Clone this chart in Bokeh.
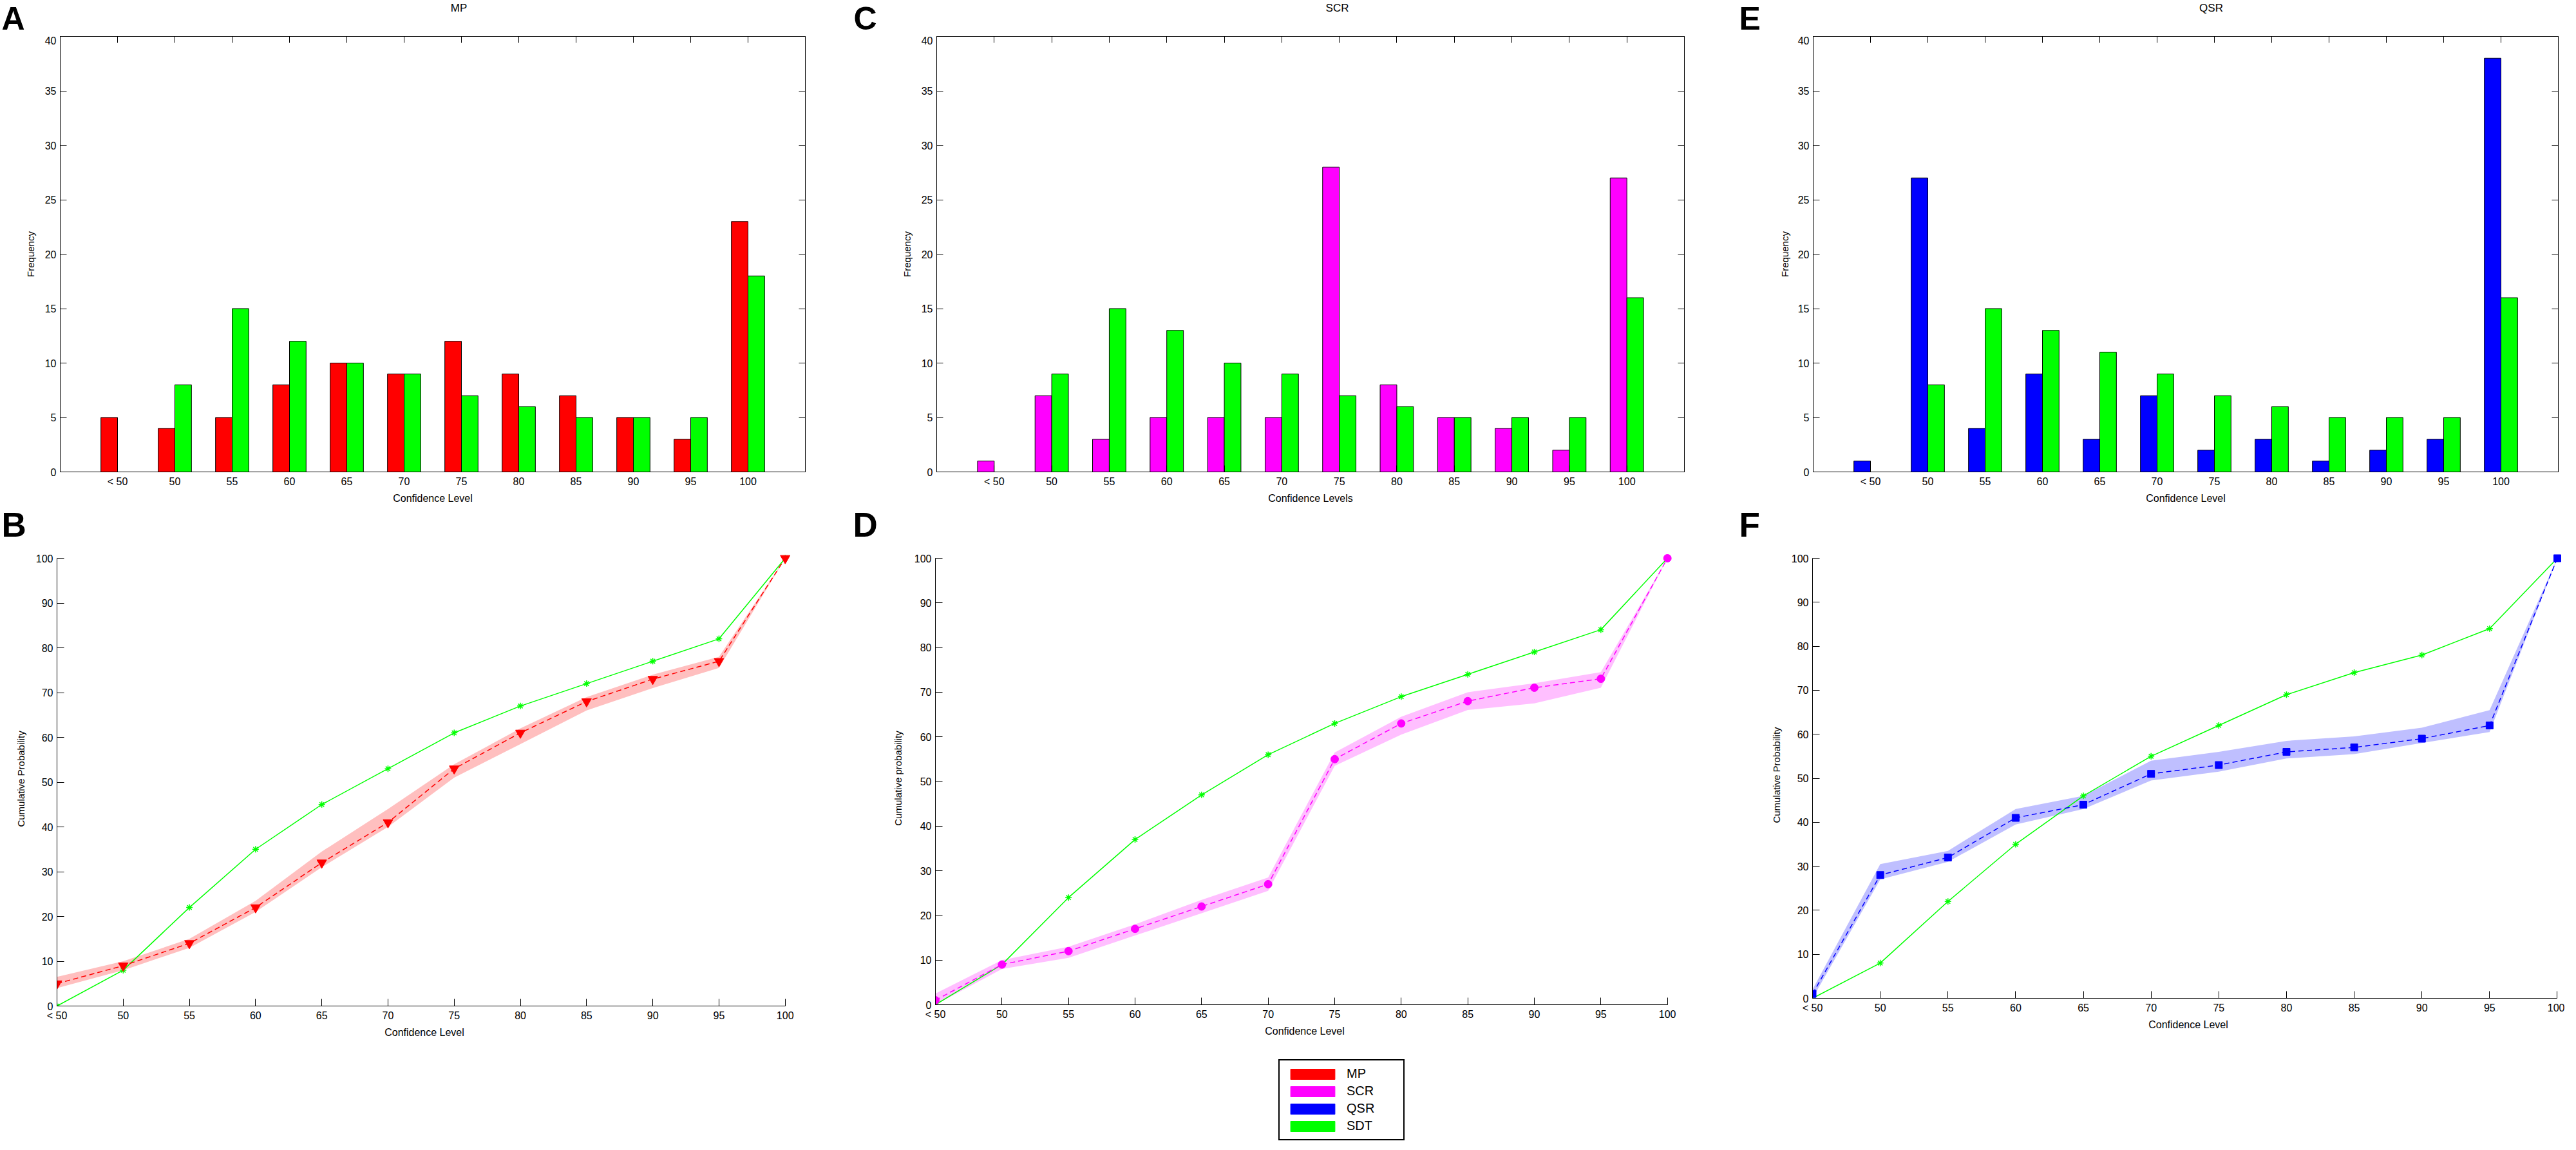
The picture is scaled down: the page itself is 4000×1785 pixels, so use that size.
import numpy as np
from bokeh.plotting import figure
from bokeh.models import (Range1d, FixedTicker, LinearAxis, Legend, LegendItem,
                          CustomJSTickFormatter)
from bokeh.layouts import row, column
from bokeh.embed import file_html
from bokeh.resources import INLINE
from bokeh.core.properties import value

# ---------------- data ----------------
categories = ["< 50", "50", "55", "60", "65", "70", "75", "80", "85", "90", "95", "100"]
freq_ticks = [0, 5, 10, 15, 20, 25, 30, 35, 40]
cum_ticks = [0, 10, 20, 30, 40, 50, 60, 70, 80, 90, 100]

mp_freq = [5, 4, 5, 8, 10, 9, 12, 9, 7, 5, 3, 23]
mp_sdt_freq = [0, 8, 15, 12, 10, 9, 7, 6, 5, 5, 5, 18]
scr_freq = [1, 7, 3, 5, 5, 5, 28, 8, 5, 4, 2, 27]
scr_sdt_freq = [0, 9, 15, 13, 10, 9, 7, 6, 5, 5, 5, 16]
qsr_freq = [1, 27, 4, 9, 3, 7, 2, 3, 1, 2, 3, 38]
qsr_sdt_freq = [0, 8, 15, 13, 11, 9, 7, 6, 5, 5, 5, 16]

mp_cum = [5, 9, 14, 22, 32, 41, 53, 61, 68, 73, 77, 100]
mp_cum_lo = [4, 8, 13, 21, 31, 40, 51, 58.5, 66, 71, 75.5, 100]
mp_cum_hi = [6.5, 10, 15, 23.5, 34.5, 44, 54, 62, 69, 74, 78, 100]
mp_sdt_cum = [0, 8, 22, 35, 45, 53, 61, 67, 72, 77, 82, 100]

scr_cum = [1, 9, 12, 17, 22, 27, 55, 63, 68, 71, 73, 100]
scr_cum_lo = [0, 8, 10.5, 15.5, 20.5, 25.5, 53.5, 60.5, 66, 67.5, 71, 100]
scr_cum_hi = [2.5, 10, 13, 18, 23.5, 28.5, 56.5, 64.5, 70, 72, 74.5, 100]
scr_sdt_cum = [0, 9, 24, 37, 47, 56, 63, 69, 74, 79, 84, 100]

qsr_cum = [1, 28, 32, 41, 44, 51, 53, 56, 57, 59, 62, 100]
qsr_cum_lo = [0, 27, 31, 39.5, 43, 49.5, 51.5, 54.5, 55.5, 58, 60.5, 100]
qsr_cum_hi = [2, 30.5, 33.5, 43, 46, 54, 56, 58.5, 59.5, 61.5, 65.5, 100]
qsr_sdt_cum = [0, 8, 22, 35, 46, 55, 62, 69, 74, 78, 84, 100]

panel_titles = ["MP", "SCR", "QSR"]
top_letters = ["A", "C", "E"]
bottom_letters = ["B", "D", "F"]
legend_names = ["MP", "SCR", "QSR", "SDT"]
RED, MAG, BLUE, GREEN = "#FF0000", "#FF00FF", "#0000FF", "#00FF00"
legend_colors = [RED, MAG, BLUE, GREEN]

FONT = "Liberation Sans"
PAGE_L, PAGE_R = 8, 3990          # reference-pixel extent of the page content
EMPTY = CustomJSTickFormatter(code="return ''")


def style_axis(ax, tick_in=10):
    ax.major_tick_in = tick_in
    ax.major_tick_out = 0
    ax.minor_tick_line_color = None
    ax.axis_line_color = "black"
    ax.major_tick_line_color = "black"
    ax.major_label_text_font = FONT
    ax.major_label_text_font_size = "16px"
    ax.major_label_text_color = "black"
    ax.axis_label_text_font = FONT
    ax.axis_label_text_font_style = "normal"
    ax.axis_label_text_color = "black"


def text_strip(top, bottom):
    s = figure(width=PAGE_R - PAGE_L, height=bottom - top, min_border=0,
               x_range=Range1d(PAGE_L, PAGE_R), y_range=Range1d(bottom, top),
               x_axis_location=None, y_axis_location=None, output_backend="svg",
               toolbar_location=None, tools="")
    s.xgrid.visible = False
    s.ygrid.visible = False
    s.outline_line_color = None
    return s


# ---------------- strip above the top row: letters and titles ----------------
S1_TOP, S1_BOT = 8, 64
s1 = text_strip(S1_TOP, S1_BOT)
s1.text(x=[10, 1333, 2708], y=[(S1_TOP + S1_BOT) / 2] * 3, text=top_letters,
        text_font=value(FONT), text_font_style="bold", text_font_size="50px",
        text_align="left", text_baseline="middle", text_color="black")
s1.text(x=[720, 2084, 3441], y=[20, 20, 20], text=panel_titles, text_font=value(FONT),
        text_font_size="17px", text_align="center", text_baseline="middle",
        text_color="black")

# ---------------- top row (histograms) ----------------
ROW1_BOTTOM = 788
AX1_T, AX1_B = S1_BOT, 740


def bar_panel(vals, sdt, color, xlabel, fig_l, fig_r, ax_l, ax_r, ylabel_standoff):
    p = figure(frame_width=ax_r - ax_l, frame_height=AX1_B - AX1_T,
               min_border_left=ax_l - fig_l, min_border_right=fig_r - ax_r,
               min_border_top=0, min_border_bottom=ROW1_BOTTOM - AX1_B,
               x_range=Range1d(0, len(categories) + 1), y_range=Range1d(0, 40),
               output_backend="svg", toolbar_location=None, tools="")
    pos = np.arange(1, len(categories) + 1)
    bw = 0.29
    p.vbar(x=pos - bw / 2, top=vals, bottom=0, width=bw, fill_color=color,
           line_color="black", line_width=1)
    p.vbar(x=pos + bw / 2, top=sdt, bottom=0, width=bw, fill_color=GREEN,
           line_color="black", line_width=1)
    p.xgrid.visible = False
    p.ygrid.visible = False
    p.outline_line_color = "black"
    p.outline_line_width = 1

    xa = p.xaxis[0]
    xa.ticker = FixedTicker(ticks=[float(v) for v in pos])
    xa.major_label_overrides = {int(i): c for i, c in zip(pos, categories)}
    style_axis(xa)
    xa.major_label_standoff = 6
    xa.axis_label = xlabel
    xa.axis_label_text_font_size = "16px"
    xa.axis_label_standoff = 6

    ya = p.yaxis[0]
    ya.ticker = FixedTicker(ticks=freq_ticks)
    style_axis(ya)
    ya.major_label_standoff = 6
    ya.axis_label = "Frequency"
    ya.axis_label_text_font_size = "15px"
    ya.axis_label_standoff = ylabel_standoff

    top_ax = LinearAxis(ticker=FixedTicker(ticks=[float(v) for v in pos]), formatter=EMPTY)
    style_axis(top_ax)
    top_ax.major_label_standoff = 0
    top_ax.major_label_text_font_size = "0px"
    p.add_layout(top_ax, "above")
    right_ax = LinearAxis(ticker=FixedTicker(ticks=freq_ticks), formatter=EMPTY)
    style_axis(right_ax)
    right_ax.major_label_standoff = 0
    right_ax.major_label_text_font_size = "0px"
    p.add_layout(right_ax, "right")
    return p


pA = bar_panel(mp_freq, mp_sdt_freq, RED, "Confidence Level", PAGE_L, 1300, 101, 1258, 11)
pC = bar_panel(scr_freq, scr_sdt_freq, MAG, "Confidence Levels", 1300, 2665, 1462, 2623, 11)
pE = bar_panel(qsr_freq, qsr_sdt_freq, BLUE, "Confidence Level", 2665, PAGE_R, 2823, 3980, 9)

# ---------------- strip above the bottom row: letters ----------------
S2_TOP, S2_BOT = ROW1_BOTTOM, 848
s2 = text_strip(S2_TOP, S2_BOT)
s2.text(x=[10, 1332, 2708], y=[(S2_TOP + S2_BOT) / 2] * 3, text=bottom_letters,
        text_font=value(FONT), text_font_style="bold", text_font_size="53px",
        text_align="left", text_baseline="middle", text_color="black")

# ---------------- bottom row (cumulative) ----------------
ROW2_BOTTOM = 1624
XPAD, YPAD = 0.1, 1.5


def cum_panel(cum, lo, hi, sdt, color, marker, msize, ylabel,
              fig_l, fig_r, ax_l, ax_r, ax_t, ax_b, ylabel_standoff):
    n = len(categories) - 1
    pxx = (ax_r - ax_l) / n
    pxy = (ax_b - ax_t) / 100.0
    fr = round(ax_r + XPAD * pxx)
    ft = max(round(ax_t - YPAD * pxy), S2_BOT)
    ypad = (ax_t - ft) / pxy
    p = figure(frame_width=fr - ax_l, frame_height=ax_b - ft,
               min_border_left=ax_l - fig_l, min_border_right=fig_r - fr,
               min_border_top=ft - S2_BOT, min_border_bottom=ROW2_BOTTOM - ax_b,
               x_range=Range1d(0, n + XPAD), y_range=Range1d(0, 100 + ypad),
               output_backend="svg", toolbar_location=None, tools="")
    x = np.arange(len(categories))
    p.varea(x=x, y1=lo, y2=hi, fill_color=color, fill_alpha=0.25)
    p.line(x, sdt, line_color=GREEN, line_width=1.5)
    p.scatter(x, sdt, marker="asterisk", size=10, line_color=GREEN, line_width=1.5)
    p.line(x, cum, line_color=color, line_width=1.5, line_dash="8 5")
    p.scatter(x, cum, marker=marker, size=msize, fill_color=color, line_color=color)
    p.xgrid.visible = False
    p.ygrid.visible = False
    p.outline_line_color = None

    xa = p.xaxis[0]
    xa.bounds = (0, n)
    xa.ticker = FixedTicker(ticks=[float(v) for v in x])
    xa.major_label_overrides = {int(i): c for i, c in zip(x, categories)}
    style_axis(xa, 11)
    xa.major_label_standoff = 6
    xa.axis_label = "Confidence Level"
    xa.axis_label_text_font_size = "16px"
    xa.axis_label_standoff = 6

    ya = p.yaxis[0]
    ya.bounds = (0, 100)
    ya.ticker = FixedTicker(ticks=cum_ticks)
    style_axis(ya, 11)
    ya.major_label_standoff = 6
    ya.axis_label = ylabel
    ya.axis_label_text_font_size = "15px"
    ya.axis_label_standoff = ylabel_standoff
    return p


pB = cum_panel(mp_cum, mp_cum_lo, mp_cum_hi, mp_sdt_cum, RED, "inverted_triangle", 15,
               "Cumulative Probability", PAGE_L, 1300, 96, 1227, 864, 1559, 12)
pD = cum_panel(scr_cum, scr_cum_lo, scr_cum_hi, scr_sdt_cum, MAG, "circle", 12,
               "Cumulative probability", 1300, 2665, 1460, 2597, 859, 1552, 14)
pF = cum_panel(qsr_cum, qsr_cum_lo, qsr_cum_hi, qsr_sdt_cum, BLUE, "square", 11,
               "Cumulative Probability", 2665, PAGE_R, 2822, 3978, 870, 1553, 12)

# ---------------- legend ----------------
LG_TOP, LG_BOT = ROW2_BOTTOM, 1776
lg = figure(width=PAGE_R - PAGE_L, height=LG_BOT - LG_TOP, min_border=0,
            x_range=Range1d(0, 1), y_range=Range1d(0, 1),
            x_axis_location=None, y_axis_location=None, output_backend="svg",
            toolbar_location=None, tools="")
lg.xgrid.visible = False
lg.ygrid.visible = False
lg.outline_line_color = None
items = []
for name, col in zip(legend_names, legend_colors):
    # proxy glyph placed outside the visible range: only its legend swatch is shown
    r = lg.quad(left=[5], right=[6], top=[6], bottom=[5], fill_color=col, line_color=col)
    items.append(LegendItem(label=name, renderers=[r]))
leg = Legend(items=items, location=(1993 - PAGE_L, 2), orientation="vertical",
             glyph_width=86, glyph_height=20, label_height=25, label_width=80,
             label_standoff=10, padding=8, spacing=2, margin=0,
             label_text_font=FONT, label_text_font_size="20px", label_text_color="black",
             border_line_color="black", border_line_width=2, border_line_alpha=1.0,
             background_fill_color="white", background_fill_alpha=1.0)
lg.add_layout(leg)

layout = column(s1, row(pA, pC, pE), s2, row(pB, pD, pF), lg)

with open("out.html", "w") as f:
    f.write(file_html(layout, INLINE, "Confidence levels"))
